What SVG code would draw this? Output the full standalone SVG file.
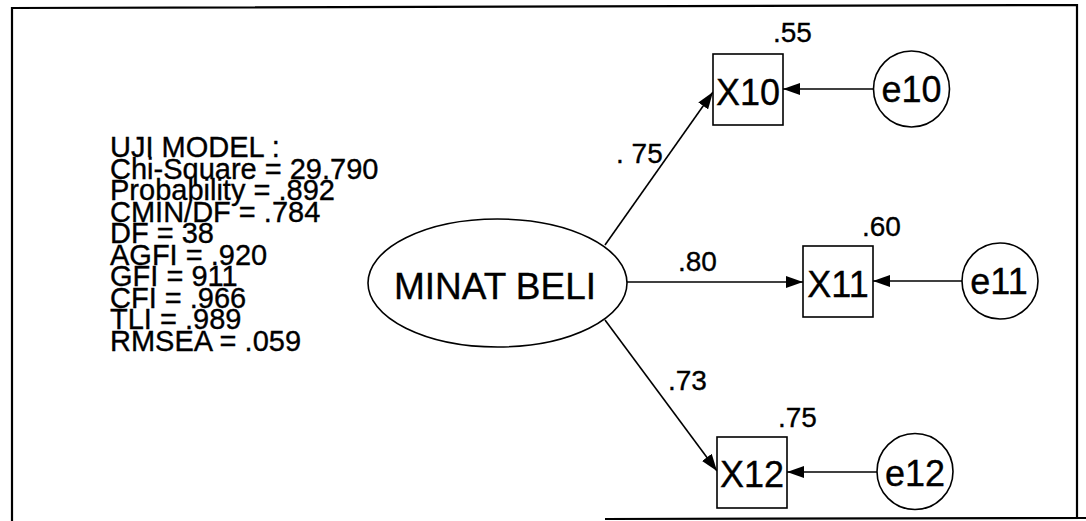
<svg xmlns="http://www.w3.org/2000/svg" width="1086" height="521" viewBox="0 0 1086 521">
<style>
text{font-family:"Liberation Sans",Arial,sans-serif;fill:#000;stroke:#000;stroke-width:0.35}
.node{fill:#fff;stroke:#000;stroke-width:1.6}
.big{font-size:36px}
.mb{font-size:37px}
.lbl{font-size:28px}
.stat{font-size:29px}
.conn line{stroke:#000;stroke-width:1.6;marker-end:url(#ah)}
.frame{stroke:#000;stroke-width:2.2;fill:none}
</style>
<defs>
<marker id="ah" markerUnits="userSpaceOnUse" markerWidth="17" markerHeight="12" refX="17" refY="6" orient="auto">
<path d="M0,0 L17,6 L0,12 z" fill="#000"/>
</marker>
</defs>
<rect width="1086" height="521" fill="#fff"/>
<g id="frame">
<path class="frame" d="M12,521 L12,8 L1077,5 L1077,519"/>
<path class="frame" d="M605,519 L1086,518"/>
</g>
<g id="stats">
<text class="stat" x="110" y="157">UJI MODEL :</text>
<text class="stat" x="110" y="178.5">Chi-Square = 29.790</text>
<text class="stat" x="110" y="200">Probability = .892</text>
<text class="stat" x="110" y="221.5">CMIN/DF = .784</text>
<text class="stat" x="110" y="243">DF = 38</text>
<text class="stat" x="110" y="264.5">AGFI = .920</text>
<text class="stat" x="110" y="286">GFI = 911</text>
<text class="stat" x="110" y="307.5">CFI = .966</text>
<text class="stat" x="110" y="329">TLI = .989</text>
<text class="stat" x="110" y="350.5">RMSEA = .059</text>
</g>
<g class="conn" id="connectors">
<line x1="605" y1="245" x2="713" y2="92"/>
<line x1="627" y1="282" x2="803" y2="282"/>
<line x1="605" y1="320" x2="717" y2="471"/>
<line x1="873" y1="89" x2="783" y2="89"/>
<line x1="962" y1="281" x2="873" y2="281"/>
<line x1="877" y1="472" x2="787" y2="472"/>
</g>
<g id="path-labels">
<text class="lbl" x="616" y="163">. 75</text>
<text class="lbl" x="678" y="271">.80</text>
<text class="lbl" x="668" y="390">.73</text>
</g>
<g id="minat-beli">
<ellipse class="node" cx="497.5" cy="283" rx="129.5" ry="64"/>
<text class="mb" x="495" y="299" text-anchor="middle">MINAT BELI</text>
</g>
<g id="X10">
<rect class="node" x="713" y="54" width="70" height="71"/>
<text class="big" x="748" y="105" text-anchor="middle">X10</text>
<text class="lbl" x="773" y="42">.55</text>
</g>
<g id="X11">
<rect class="node" x="803" y="246" width="70" height="71"/>
<text class="big" x="838" y="297" text-anchor="middle">X11</text>
<text class="lbl" x="862" y="236">.60</text>
</g>
<g id="X12">
<rect class="node" x="717" y="437" width="70" height="71"/>
<text class="big" x="752" y="487" text-anchor="middle">X12</text>
<text class="lbl" x="778" y="427">.75</text>
</g>
<g id="e10">
<circle class="node" cx="911.5" cy="89" r="38"/>
<text class="big" x="911.5" y="102" text-anchor="middle">e10</text>
</g>
<g id="e11">
<circle class="node" cx="1000" cy="281" r="38"/>
<text class="big" x="999" y="294" text-anchor="middle">e11</text>
</g>
<g id="e12">
<circle class="node" cx="915" cy="471.5" r="38"/>
<text class="big" x="915" y="486" text-anchor="middle">e12</text>
</g>
</svg>
